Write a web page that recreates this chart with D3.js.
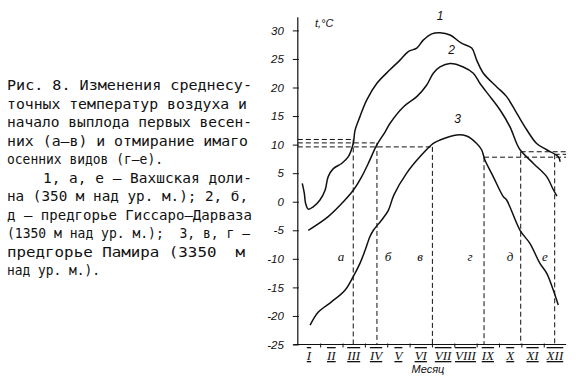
<!DOCTYPE html>
<html><head><meta charset="utf-8">
<script src="https://cdn.jsdelivr.net/npm/d3@7"></script>
<style>
html,body{margin:0;padding:0;background:#fff;}
svg{display:block;}
</style></head>
<body>
<svg id="c" width="576" height="379"></svg>
<script>
// ---- data ----
const months = ["I","II","III","IV","V","VI","VII","VIII","IX","X","XI","XII"];
const yTicks = [30,25,20,15,10,5,0,-5,-10,-15,-20,-25];
// month position (1 = middle of January) , temperature °C
const curve1 = [[0.70,3.2],[0.79,1.5],[0.85,-0.3],[0.97,-1.3],[1.19,-0.9],[1.49,0.3],[1.72,2.0],[1.86,4.4],[2.09,5.8],[2.46,6.7],[2.76,7.9],[2.98,10.2],[3.06,12.5],[3.28,14.9],[3.58,17.8],[4.03,20.7],[4.62,23.1],[5.07,24.8],[5.44,26.3],[5.82,26.9],[6.11,28.3],[6.49,29.4],[6.86,29.6],[7.31,29.2],[7.80,27.8],[8.28,26.9],[8.50,24.8],[8.80,22.5],[9.40,20.1],[9.84,18.4],[10.29,15.5],[10.74,12.6],[11.18,10.2],[11.63,9.1],[12.15,7.9],[12.23,7.0]];
const curve2 = [[0.97,-5.0],[1.86,-2.6],[2.61,0.3],[2.98,2.0],[3.36,4.4],[3.65,6.7],[4.03,9.9],[4.40,12.2],[4.62,13.7],[5.22,16.6],[5.82,18.4],[6.26,20.4],[6.56,22.5],[6.86,23.6],[7.31,24.2],[7.90,23.6],[8.35,22.5],[8.65,20.7],[9.10,18.4],[9.54,16.1],[9.99,13.1],[10.29,10.2],[10.44,9.1],[11.04,6.7],[11.63,4.4],[11.93,2.1],[12.09,1.0]];
const curve3 = [[1.05,-21.6],[1.42,-19.3],[2.02,-17.5],[2.61,-15.5],[2.98,-13.1],[3.28,-10.8],[3.51,-8.5],[3.73,-6.1],[3.88,-5.0],[4.25,-3.2],[4.55,-1.5],[4.80,1.2],[5.37,5.0],[5.97,7.9],[6.56,10.2],[6.86,10.8],[7.61,11.7],[8.05,11.5],[8.50,10.2],[8.72,9.1],[8.87,7.3],[9.24,4.4],[9.69,0.9],[9.84,0.3],[10.44,-5.0],[10.88,-7.3],[11.33,-10.8],[11.63,-12.5],[11.93,-15.5],[12.15,-18.1]];
const curveNames = ["1","2","3"];
const curveLabelPos = [[6.86,31.8],[7.38,25.8],[7.65,13.7]];
// threshold dates: letter, month position, threshold temperature, letter month position
const phaseLetters = ["а","б","в","г","д","е"];
const phaseMonth = [2.98,4.04,6.52,8.83,10.47,11.99];
const phaseTemp = [10.9,10.3,9.6,7.8,8.75,8.3];
const phaseSide = ["left","left","left","right","right","right"];
const letterMonth = [2.43,4.53,5.97,8.20,9.99,11.55];
const letterTemp = -9.6;
const caption = [
 "Рис. 8. Изменения среднесу-",
 "точных температур воздуха и",
 "начало выплода первых весен-",
 "них (а–в) и отмирание имаго",
 "осенних видов (г–е).",
 "1, а, е – Вахшская доли-",
 "на (350 м над ур. м.); 2, б,",
 "д – предгорье Гиссаро–Дарваза",
 "(1350 м над ур. м.);  3, в, г –",
 "предгорье Памира (3350  м",
 "над ур. м.)."
];
const captionX0 = [7,7,7,7,7,43,7,7,7,7,7];
const captionX1 = [252,247,252,248,163,252,248,252,250,245,100];

// ---- chart ----
const svg = d3.select("#c");
const x = d3.scaleLinear().domain([0.5,12.5]).range([297.8,566.1]);
const y = d3.scaleLinear().domain([-25,30]).range([344.5,30.4]);
const ink = "#111";

// caption
const cap = svg.append("g").attr("font-family","'DejaVu Sans Mono', monospace").attr("font-size",13.5).attr("fill",ink);
caption.forEach((t,i)=>{
  cap.append("text").attr("x",captionX0[i]).attr("y",90+i*18.5)
    .attr("textLength",captionX1[i]-captionX0[i]).attr("lengthAdjust","spacingAndGlyphs")
    .attr("xml:space","preserve").style("white-space","pre").text(t);
});

// y axis
svg.append("line").attr("x1",x(0.5)).attr("x2",x(0.5)).attr("y1",y(32.3)).attr("y2",y(-25)).attr("stroke",ink).attr("stroke-width",1.2);
const yAxis = d3.axisLeft(y).tickValues(yTicks).tickSize(5).tickFormat(d=>d);
const gy = svg.append("g").attr("transform",`translate(${x(0.5)},0)`).call(yAxis);
gy.select(".domain").remove();
gy.selectAll(".tick line").attr("stroke",ink).attr("x2",-5).attr("x1",1);
gy.selectAll(".tick text").attr("x",-14).attr("font-family","'Liberation Sans', sans-serif").attr("font-style","italic").attr("font-size",11.5).attr("fill",ink);

// x axis
svg.append("line").attr("x1",x(0.3)).attr("x2",x(12.5)).attr("y1",y(-25)).attr("y2",y(-25)).attr("stroke",ink).attr("stroke-width",1.2);
const xb = d3.scaleLinear().domain([0.5,12.5]).range(x.range());
const gx = svg.append("g").attr("transform",`translate(0,${y(-25)})`)
  .call(d3.axisBottom(xb).tickValues(d3.range(1.5,12.5,1)).tickSize(3).tickFormat(""));
gx.select(".domain").remove();
gx.selectAll(".tick line").attr("stroke",ink).attr("y1",-1);
svg.append("g").selectAll("text").data(months).join("text")
  .attr("x",(d,i)=>x(i+1)).attr("y",360).attr("text-anchor","middle")
  .attr("font-family","'Liberation Serif', serif").attr("font-style","italic").attr("font-size",13).attr("fill",ink)
  .attr("text-decoration","overline underline")
  .text(d=>d);
svg.append("text").attr("x",428).attr("y",373).attr("text-anchor","middle")
  .attr("font-family","'Liberation Sans', sans-serif").attr("font-style","italic").attr("font-size",11).attr("fill",ink).text("Месяц");
svg.append("text").attr("x",315).attr("y",27)
  .attr("font-family","'Liberation Sans', sans-serif").attr("font-style","italic").attr("font-size",11).attr("fill",ink).text("t,°C");

// dashed guide lines
const dash = svg.append("g").attr("stroke",ink).attr("stroke-width",1).attr("stroke-dasharray","5,3").attr("fill","none");
phaseMonth.forEach((m,i)=>{
  const xs = phaseSide[i]==="left" ? [0.5,m] : [m,12.5];
  dash.append("line").attr("x1",x(xs[0])).attr("x2",x(xs[1])).attr("y1",y(phaseTemp[i])).attr("y2",y(phaseTemp[i]));
  dash.append("line").attr("x1",x(m)).attr("x2",x(m)).attr("y1",y(phaseTemp[i])).attr("y2",y(-25));
});
svg.append("g").selectAll("text").data(phaseLetters).join("text")
  .attr("x",(d,i)=>x(letterMonth[i])).attr("y",y(letterTemp)+4).attr("text-anchor","middle")
  .attr("font-family","'Liberation Serif', serif").attr("font-style","italic").attr("font-size",13).attr("fill",ink)
  .text(d=>d);

// curves
const line = d3.line().x(d=>x(d[0])).y(d=>y(d[1])).curve(d3.curveCatmullRom.alpha(0.5));
[curve1,curve2,curve3].forEach(c=>{
  svg.append("path").attr("d",line(c)).attr("fill","none").attr("stroke",ink).attr("stroke-width",1.5);
});
svg.append("g").selectAll("text").data(curveNames).join("text")
  .attr("x",(d,i)=>x(curveLabelPos[i][0])).attr("y",(d,i)=>y(curveLabelPos[i][1])).attr("text-anchor","middle")
  .attr("font-family","'Liberation Sans', sans-serif").attr("font-style","italic").attr("font-size",12).attr("fill",ink)
  .text(d=>d);
</script>
</body></html>
